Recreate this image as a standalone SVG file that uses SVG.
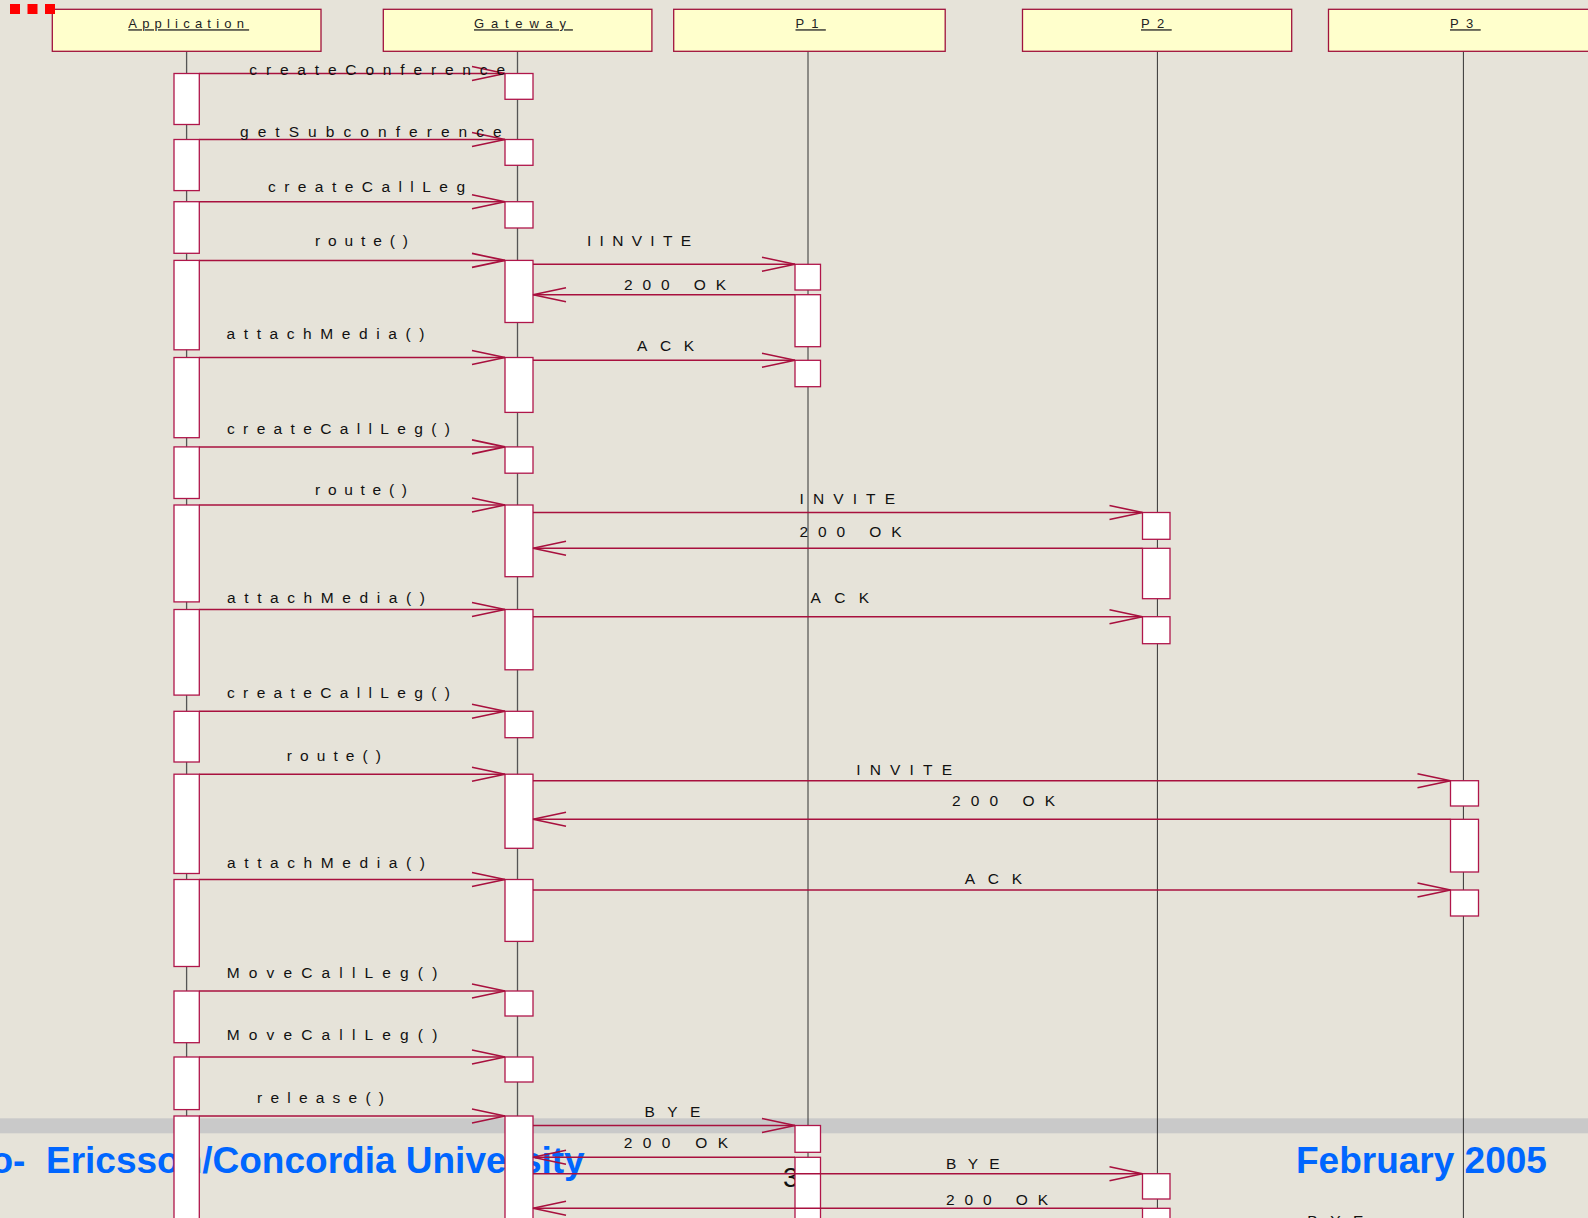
<svg xmlns="http://www.w3.org/2000/svg" width="1588" height="1218" viewBox="0 0 1588 1218">
<style>
.hdr{fill:#FFFFCC;stroke:#A0123C;stroke-width:1.3}
.act{fill:#FFFFFF;stroke:#B0164A;stroke-width:1.3}
.life{stroke:#333333;stroke-width:1;fill:none}
.lifeg{stroke:#555555;stroke-width:1.3;fill:none}
.msg{stroke:#A8103E;stroke-width:1.5;fill:none;marker-end:url(#arr)}
.lbl{font-family:"Liberation Sans",Arial,sans-serif;font-size:15.5px;fill:#111111}
.ttl{font-family:"Liberation Sans",Arial,sans-serif;font-size:13px;fill:#222222;text-decoration:underline}
.foot{font-family:"Liberation Sans",Arial,sans-serif;font-weight:bold;font-size:37px;fill:#0066FF}
.sq{fill:#FF0000}
</style>
<defs>
<marker id="arr" markerUnits="userSpaceOnUse" markerWidth="40" markerHeight="20" viewBox="-36 -10 40 20" refX="0" refY="0" orient="auto" overflow="visible">
<path d="M-33,-7 L0,0 L-33,7" fill="none" stroke="#A8103E" stroke-width="1.6"/>
</marker>
</defs>
<rect x="0" y="0" width="1588" height="1218" fill="#E6E3D9"/>
<rect x="0" y="1118.3" width="1588" height="15" fill="#C9C9C9"/>
<g id="footer">
<text class="foot" x="584.7" y="1172.5" text-anchor="end" xml:space="preserve">o-  Ericsson/Concordia University</text>
<text class="foot" x="1296" y="1172.7">February 2005</text>
<text x="783" y="1187" font-family="Liberation Sans, Arial, sans-serif" font-size="28" fill="#111111">3</text>
</g>
<g id="app">
<line class="lifeg" x1="186.6" y1="51.3" x2="186.6" y2="1218"/>
<rect class="hdr" x="52.3" y="9.3" width="268.7" height="42"/>
<text class="ttl" x="128.3" y="28.3" letter-spacing="5.2">Application</text>
<rect class="act" x="174" y="73.5" width="25.3" height="51"/>
<rect class="act" x="174" y="139.5" width="25.3" height="51.1"/>
<rect class="act" x="174" y="201.7" width="25.3" height="51.6"/>
<rect class="act" x="174" y="260.4" width="25.3" height="89.4"/>
<rect class="act" x="174" y="357.5" width="25.3" height="80.2"/>
<rect class="act" x="174" y="446.9" width="25.3" height="51.6"/>
<rect class="act" x="174" y="505" width="25.3" height="96.9"/>
<rect class="act" x="174" y="609.5" width="25.3" height="85.6"/>
<rect class="act" x="174" y="711.3" width="25.3" height="50.7"/>
<rect class="act" x="174" y="774.2" width="25.3" height="99.3"/>
<rect class="act" x="174" y="879.5" width="25.3" height="87"/>
<rect class="act" x="174" y="991" width="25.3" height="51.7"/>
<rect class="act" x="174" y="1057" width="25.3" height="52.6"/>
<rect class="act" x="174" y="1116" width="25.3" height="120"/>
</g>
<g id="gateway">
<line class="lifeg" x1="517.5" y1="51.3" x2="517.5" y2="1218"/>
<rect class="hdr" x="383.3" y="9.3" width="268.6" height="42"/>
<text class="ttl" x="474" y="28.3" letter-spacing="6.8">Gateway</text>
<rect class="act" x="505" y="73.5" width="28" height="25.8"/>
<rect class="act" x="505" y="139.5" width="28" height="25.8"/>
<rect class="act" x="505" y="201.7" width="28" height="26.3"/>
<rect class="act" x="505" y="260.4" width="28" height="62.1"/>
<rect class="act" x="505" y="357.5" width="28" height="54.9"/>
<rect class="act" x="505" y="446.9" width="28" height="26.3"/>
<rect class="act" x="505" y="505" width="28" height="71.7"/>
<rect class="act" x="505" y="609.5" width="28" height="60.3"/>
<rect class="act" x="505" y="711.3" width="28" height="26.4"/>
<rect class="act" x="505" y="774.2" width="28" height="74.1"/>
<rect class="act" x="505" y="879.5" width="28" height="61.9"/>
<rect class="act" x="505" y="991" width="28" height="25"/>
<rect class="act" x="505" y="1057" width="28" height="25"/>
<rect class="act" x="505" y="1116" width="28" height="120"/>
</g>
<g id="p1">
<line class="life" x1="808" y1="51.3" x2="808" y2="1218"/>
<rect class="hdr" x="673.7" y="9.3" width="271.5" height="42"/>
<text class="ttl" x="795.5" y="28.3" letter-spacing="7.2">P1</text>
<rect class="act" x="795" y="264.3" width="25.5" height="25.7"/>
<rect class="act" x="795" y="294.7" width="25.5" height="52"/>
<rect class="act" x="795" y="360.3" width="25.5" height="26.4"/>
<rect class="act" x="795" y="1125.5" width="25.5" height="26.8"/>
<rect class="act" x="795" y="1157.3" width="25.5" height="80"/>
</g>
<g id="p2">
<line class="life" x1="1157.4" y1="51.3" x2="1157.4" y2="1218"/>
<rect class="hdr" x="1022.5" y="9.3" width="269.2" height="42"/>
<text class="ttl" x="1141" y="28.3" letter-spacing="7.4">P2</text>
<rect class="act" x="1142.5" y="512.5" width="27.5" height="26.8"/>
<rect class="act" x="1142.5" y="548.3" width="27.5" height="50.4"/>
<rect class="act" x="1142.5" y="616.7" width="27.5" height="27"/>
<rect class="act" x="1142.5" y="1173.7" width="27.5" height="25.3"/>
<rect class="act" x="1142.5" y="1208.3" width="27.5" height="30"/>
</g>
<g id="p3">
<line class="life" x1="1463.4" y1="51.3" x2="1463.4" y2="1218"/>
<rect class="hdr" x="1328.5" y="9.3" width="280" height="42"/>
<text class="ttl" x="1450" y="28.3" letter-spacing="7.4">P3</text>
<rect class="act" x="1450.5" y="780.7" width="28" height="25.3"/>
<rect class="act" x="1450.5" y="819.3" width="28" height="52.7"/>
<rect class="act" x="1450.5" y="890" width="28" height="26"/>
</g>
<g id="squares">
<rect class="sq" x="10" y="4" width="10" height="10"/>
<rect class="sq" x="27.5" y="4" width="10" height="10"/>
<rect class="sq" x="45" y="4" width="10" height="10"/>
</g>
<g id="connectors">
<line class="msg" x1="199.3" y1="73.5" x2="505" y2="73.5"/>
<line class="msg" x1="199.3" y1="139.5" x2="505" y2="139.5"/>
<line class="msg" x1="199.3" y1="201.7" x2="505" y2="201.7"/>
<line class="msg" x1="199.3" y1="260.4" x2="505" y2="260.4"/>
<line class="msg" x1="533" y1="264.3" x2="795" y2="264.3"/>
<line class="msg" x1="795" y1="294.7" x2="533" y2="294.7"/>
<line class="msg" x1="199.3" y1="357.5" x2="505" y2="357.5"/>
<line class="msg" x1="533" y1="360.3" x2="795" y2="360.3"/>
<line class="msg" x1="199.3" y1="446.9" x2="505" y2="446.9"/>
<line class="msg" x1="199.3" y1="505" x2="505" y2="505"/>
<line class="msg" x1="533" y1="512.5" x2="1142.5" y2="512.5"/>
<line class="msg" x1="1142.5" y1="548.3" x2="533" y2="548.3"/>
<line class="msg" x1="199.3" y1="609.5" x2="505" y2="609.5"/>
<line class="msg" x1="533" y1="616.7" x2="1142.5" y2="616.7"/>
<line class="msg" x1="199.3" y1="711.3" x2="505" y2="711.3"/>
<line class="msg" x1="199.3" y1="774.2" x2="505" y2="774.2"/>
<line class="msg" x1="533" y1="780.7" x2="1450.5" y2="780.7"/>
<line class="msg" x1="1450.5" y1="819.3" x2="533" y2="819.3"/>
<line class="msg" x1="199.3" y1="879.5" x2="505" y2="879.5"/>
<line class="msg" x1="533" y1="890" x2="1450.5" y2="890"/>
<line class="msg" x1="199.3" y1="991" x2="505" y2="991"/>
<line class="msg" x1="199.3" y1="1057" x2="505" y2="1057"/>
<line class="msg" x1="199.3" y1="1116" x2="505" y2="1116"/>
<line class="msg" x1="533" y1="1125.5" x2="795" y2="1125.5"/>
<line class="msg" x1="795" y1="1157.3" x2="533" y2="1157.3"/>
<line class="msg" x1="533" y1="1173.7" x2="1142.5" y2="1173.7"/>
<line class="msg" x1="1142.5" y1="1208.3" x2="533" y2="1208.3"/>
<text class="lbl" x="249.3" y="75" textLength="255.7" lengthAdjust="spacing">createConference</text>
<text class="lbl" x="240" y="137.3" textLength="261.7" lengthAdjust="spacing">getSubconference</text>
<text class="lbl" x="268" y="192.3" textLength="197" lengthAdjust="spacing">createCallLeg</text>
<text class="lbl" x="315" y="246" textLength="93" lengthAdjust="spacing">route()</text>
<text class="lbl" x="587" y="246" textLength="104" lengthAdjust="spacing">IINVITE</text>
<text class="lbl" x="624" y="290" textLength="102" lengthAdjust="spacing">200 OK</text>
<text class="lbl" x="226.5" y="339" textLength="198" lengthAdjust="spacing">attachMedia()</text>
<text class="lbl" x="637" y="351" textLength="57" lengthAdjust="spacing">ACK</text>
<text class="lbl" x="227" y="433.5" textLength="223" lengthAdjust="spacing">createCallLeg()</text>
<text class="lbl" x="315" y="495" textLength="92" lengthAdjust="spacing">route()</text>
<text class="lbl" x="799.5" y="504" textLength="95.5" lengthAdjust="spacing">INVITE</text>
<text class="lbl" x="799.5" y="536.7" textLength="102" lengthAdjust="spacing">200 OK</text>
<text class="lbl" x="227" y="603.3" textLength="198" lengthAdjust="spacing">attachMedia()</text>
<text class="lbl" x="810.6" y="603.3" textLength="58.4" lengthAdjust="spacing">ACK</text>
<text class="lbl" x="227" y="698" textLength="223" lengthAdjust="spacing">createCallLeg()</text>
<text class="lbl" x="286.8" y="761" textLength="94.2" lengthAdjust="spacing">route()</text>
<text class="lbl" x="856.3" y="775" textLength="95.7" lengthAdjust="spacing">INVITE</text>
<text class="lbl" x="952" y="806" textLength="103" lengthAdjust="spacing">200 OK</text>
<text class="lbl" x="227" y="868" textLength="198" lengthAdjust="spacing">attachMedia()</text>
<text class="lbl" x="964.7" y="884" textLength="57.3" lengthAdjust="spacing">ACK</text>
<text class="lbl" x="226.7" y="978.3" textLength="210.6" lengthAdjust="spacing">MoveCallLeg()</text>
<text class="lbl" x="226.7" y="1040" textLength="210.6" lengthAdjust="spacing">MoveCallLeg()</text>
<text class="lbl" x="257" y="1103" textLength="127" lengthAdjust="spacing">release()</text>
<text class="lbl" x="644.4" y="1116.7" textLength="56" lengthAdjust="spacing">BYE</text>
<text class="lbl" x="623.7" y="1147.7" textLength="104.3" lengthAdjust="spacing">200 OK</text>
<text class="lbl" x="946" y="1169.3" textLength="53.7" lengthAdjust="spacing">BYE</text>
<text class="lbl" x="946" y="1205" textLength="102" lengthAdjust="spacing">200 OK</text>
<text class="lbl" x="1307.3" y="1226" textLength="56" lengthAdjust="spacing">BYE</text>
</g>
</svg>
